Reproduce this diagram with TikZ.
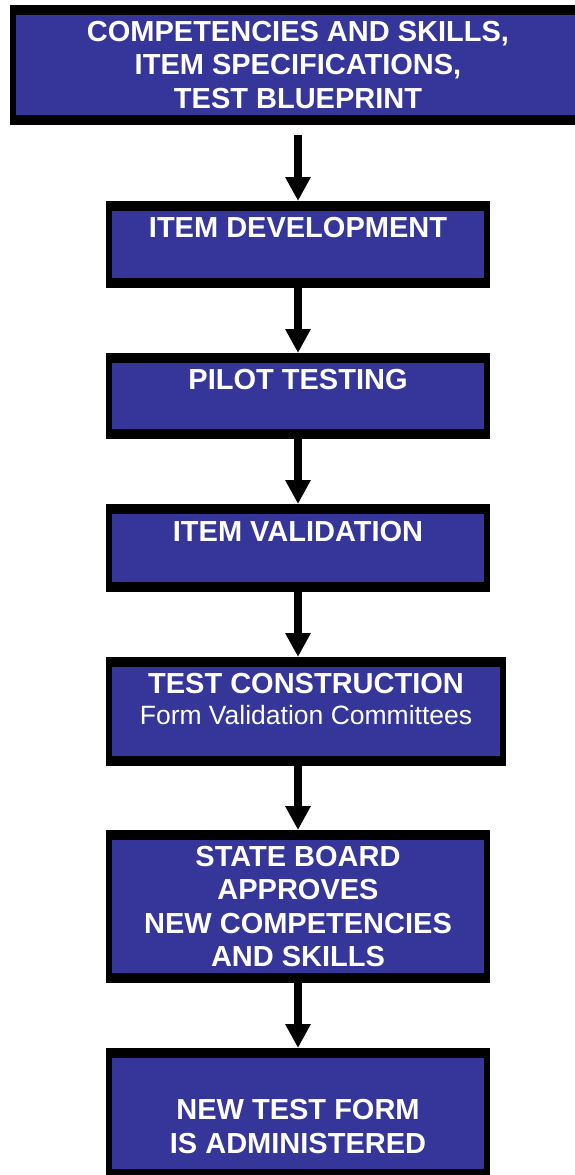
\documentclass[tikz,border=0pt]{standalone}
\usepackage{fontspec}
\setmainfont{Liberation Sans}
\usetikzlibrary{arrows.meta}

\definecolor{boxblue}{RGB}{54,53,153}
\newcommand{\boxfont}{\fontsize{29}{33.5}\selectfont\bfseries}
\newcommand{\subfont}{\fontsize{26.5}{31}\selectfont\mdseries}

\begin{document}
\begin{tikzpicture}[x=1pt,y=-1pt,stepbox/.style={fill=black,inner sep=0pt,outer sep=0pt,align=center,text=white,font=\boxfont,minimum width=384pt,path picture={\fill[boxblue] ([xshift=6pt,yshift=-10pt]path picture bounding box.north west) rectangle ([xshift=-6pt,yshift=10pt]path picture bounding box.south east);}},flow/.style={line width=8pt,-{Triangle[width=24pt,length=24pt]}}]
\useasboundingbox (0,0) rectangle (575,1175);
\clip (0,0) rectangle (575,1175);
\node[stepbox,minimum width=576pt,minimum height=120pt] (compskills) at (298,65) {COMPETENCIES AND SKILLS,\\ITEM SPECIFICATIONS,\\TEST BLUEPRINT};
\node[stepbox,minimum height=87pt] (itemdev) at (298,244.5) {ITEM DEVELOPMENT\\\mbox{}};
\node[stepbox,minimum height=86pt] (pilot) at (298,396) {PILOT TESTING\\\mbox{}};
\node[stepbox,minimum height=88pt] (itemval) at (298,548) {ITEM VALIDATION\\\mbox{}};
\node[stepbox,minimum width=400pt,minimum height=109pt] (testcons) at (306,711.5) {TEST CONSTRUCTION\\[-2.5pt]{\subfont Form Validation Committees}\\[-7.5pt]\mbox{}};
\node[stepbox,minimum height=153pt] (stateboard) at (298,906.5) {STATE BOARD\\APPROVES\\NEW COMPETENCIES\\AND SKILLS};
\node[stepbox,minimum height=131pt] (newform) at (298,1113.5) {\mbox{}\\[13pt]NEW TEST FORM\\IS ADMINISTERED};
% arrows between the steps
\draw[flow] ([yshift=-10pt]compskills.south) -- (itemdev.north);
\draw[flow] (itemdev.south) -- (pilot.north);
\draw[flow] (pilot.south) -- (itemval.north);
\draw[flow] (itemval.south) -- (itemval.south |- testcons.north);
\draw[flow] (testcons.south -| stateboard.north) -- (stateboard.north);
\draw[flow] (stateboard.south) -- (newform.north);
\end{tikzpicture}
\end{document}
